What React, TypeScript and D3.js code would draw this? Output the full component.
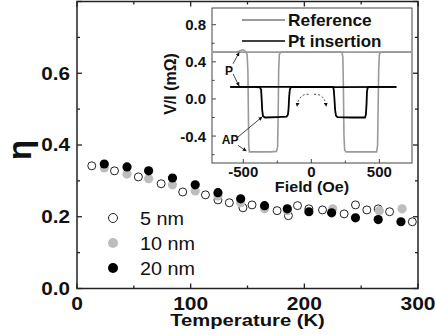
import * as d3 from "d3";

// main panel data: temperature (K) vs eta
const temps5 = [13, 33, 54, 74, 93, 113, 124, 134, 146, 154, 176, 186, 194, 204, 216, 235, 245, 255, 265, 275, 295];
const eta5 = [0.342, 0.328, 0.311, 0.292, 0.269, 0.261, 0.247, 0.239, 0.225, 0.233, 0.217, 0.203, 0.231, 0.222, 0.219, 0.208, 0.233, 0.219, 0.222, 0.214, 0.186];
const temps10 = [24, 44, 63, 84, 104, 124, 144, 165, 185, 225, 266, 286];
const eta10 = [0.336, 0.319, 0.306, 0.289, 0.272, 0.258, 0.239, 0.222, 0.217, 0.222, 0.217, 0.222];
const temps20 = [24, 44, 63, 84, 104, 124, 144, 165, 185, 204, 224, 245, 265, 285];
const eta20 = [0.347, 0.339, 0.328, 0.308, 0.289, 0.267, 0.25, 0.231, 0.222, 0.214, 0.211, 0.197, 0.192, 0.186];

const xTicks = [0, 100, 200, 300];
const yTicks = [0.0, 0.2, 0.4, 0.6];
const legendLabels = ["5 nm", "10 nm", "20 nm"];

// inset data: field (Oe) vs V/I (mOhm), each sweep branch
const refDown: [number, number][] = [
  [740, 0.505], [-225, 0.505], [-235, 0.48], [-240, 0.3], [-244, -0.2], [-248, -0.52], [-256, -0.565],
  [-300, -0.57], [-455, -0.57], [-460, -0.5], [-463, -0.1], [-466, 0.3], [-472, 0.48], [-485, 0.515],
  [-505, 0.53], [-525, 0.52], [-545, 0.505], [-730, 0.505],
];
const refUp: [number, number][] = [
  [-730, 0.505], [225, 0.505], [232, 0.45], [236, 0.1], [240, -0.4], [245, -0.55], [255, -0.57],
  [480, -0.57], [487, -0.5], [491, -0.1], [495, 0.3], [500, 0.48], [510, 0.505], [740, 0.505],
];
const ptDown: [number, number][] = [
  [625, 0.13], [200, 0.128], [-150, 0.13], [-158, 0.1], [-163, 0.02], [-167, -0.1], [-172, -0.17],
  [-182, -0.19], [-250, -0.195], [-340, -0.2], [-355, -0.185], [-361, -0.12], [-365, 0], [-369, 0.1],
  [-378, 0.125], [-420, 0.13], [-596, 0.13],
];
const ptUp: [number, number][] = [
  [-596, 0.13], [160, 0.13], [165, 0.1], [170, 0.0], [175, -0.12], [181, -0.18], [192, -0.195],
  [300, -0.2], [394, -0.2], [401, -0.17], [406, -0.05], [409, 0.08], [414, 0.12], [425, 0.13], [625, 0.13],
];
const insetXTicks = [-500, 0, 500];
const insetYTicks = [-0.4, 0.0, 0.4, 0.8];

const font = "'Liberation Sans', Arial, sans-serif";

function SText({ x, y, scaleX = 1, anchor = "start", size, bold = true, rotate = 0, children }: any) {
  return (
    <text
      transform={`translate(${x},${y}) rotate(${rotate}) scale(${scaleX},1)`}
      textAnchor={anchor}
      fontSize={size}
      fontWeight={bold ? "bold" : "normal"}
      fontFamily={font}
      fill="#111"
    >
      {children}
    </text>
  );
}

export default function App() {
  const x = d3.scaleLinear().domain([0, 300]).range([77, 418]);
  const y = d3.scaleLinear().domain([0, 0.8]).range([288.5, 1.5]);
  const xi = d3.scaleLinear().domain([-730, 740]).range([212, 412]);
  const yi = d3.scaleLinear().domain([-0.69, 0.98]).range([163, 8]);
  const line = d3.line<[number, number]>().x((d) => xi(d[0])).y((d) => yi(d[1]));

  const [x0, x1] = x.range();
  const [y0, y1] = y.range();
  const [ix0, ix1] = xi.range();
  const [iy0, iy1] = yi.range();

  const arrow = (a: [number, number], b: [number, number]) =>
    `M${xi(a[0])},${yi(a[1])}L${xi(b[0])},${yi(b[1])}`;
  const arc = (a: [number, number], c: [number, number], b: [number, number]) =>
    `M${xi(a[0])},${yi(a[1])}Q${xi(c[0])},${yi(c[1])} ${xi(b[0])},${yi(b[1])}`;

  return (
    <svg width={436} height={335} style={{ position: "absolute", left: 0, top: 0, background: "#fff" }}>
      <defs>
        <marker id="ah" viewBox="0 0 10 10" refX="9" refY="5" markerWidth="5" markerHeight="5" orient="auto">
          <path d="M0,0L10,5L0,10z" fill="#111" />
        </marker>
      </defs>

      {/* main frame */}
      <rect x={x0} y={y1} width={x1 - x0} height={y0 - y1} fill="none" stroke="#222" strokeWidth={1.5} />
      {d3.range(0, 301, 50).map((t) => {
        const len = t % 100 === 0 ? 5 : 3;
        return (
          <g key={"xt" + t}>
            <line x1={x(t)} x2={x(t)} y1={y0} y2={y0 - len} stroke="#222" strokeWidth={1.3} />
            <line x1={x(t)} x2={x(t)} y1={y1} y2={y1 + len} stroke="#222" strokeWidth={1.3} />
          </g>
        );
      })}
      {d3.range(0, 9).map((i) => {
        const v = i / 10;
        const len = i % 2 === 0 ? 5 : 3;
        return (
          <g key={"yt" + i}>
            <line x1={x0} x2={x0 + len} y1={y(v)} y2={y(v)} stroke="#222" strokeWidth={1.3} />
            <line x1={x1} x2={x1 - len} y1={y(v)} y2={y(v)} stroke="#222" strokeWidth={1.3} />
          </g>
        );
      })}
      {xTicks.map((t) => (
        <SText key={"xl" + t} x={x(t)} y={310} anchor="middle" size={17.5} scaleX={1.2}>
          {t}
        </SText>
      ))}
      {yTicks.map((t) => (
        <SText key={"yl" + t} x={70} y={y(t) + 6.3} anchor="end" size={17.5} scaleX={1.18}>
          {t.toFixed(1)}
        </SText>
      ))}
      <SText x={(x0 + x1) / 2} y={326} anchor="middle" size={17} scaleX={1.19}>
        Temperature (K)
      </SText>
      <SText x={31} y={150} anchor="middle" size={33} rotate={-90}>
        η
      </SText>

      {/* data */}
      {temps5.map((t, i) => (
        <circle key={"a" + i} cx={x(t)} cy={y(eta5[i])} r={4} fill="#fff" stroke="#222" strokeWidth={1} />
      ))}
      {temps10.map((t, i) => (
        <circle key={"b" + i} cx={x(t)} cy={y(eta10[i])} r={4.6} fill="#bdbdbd" />
      ))}
      {temps20.map((t, i) => (
        <circle key={"c" + i} cx={x(t)} cy={y(eta20[i])} r={4.6} fill="#000" />
      ))}

      {/* legend */}
      {legendLabels.map((lab, i) => {
        const cy = 218 + i * 25;
        return (
          <g key={lab}>
            {i === 0 && <circle cx={113} cy={cy} r={4.5} fill="#fff" stroke="#222" />}
            {i === 1 && <circle cx={113} cy={cy} r={5} fill="#bdbdbd" />}
            {i === 2 && <circle cx={113} cy={cy} r={5} fill="#000" />}
            <SText x={140} y={cy + 6.5} size={18} bold={false} scaleX={1.1}>
              {lab}
            </SText>
          </g>
        );
      })}

      {/* inset */}
      <rect x={ix0} y={iy1} width={ix1 - ix0} height={iy0 - iy1} fill="#fff" stroke="#444" strokeWidth={1} />
      {d3.range(-500, 501, 250).map((f) => (
        <line key={"ixt" + f} x1={xi(f)} x2={xi(f)} y1={iy0} y2={iy0 - (f % 500 === 0 ? 4 : 2.5)} stroke="#444" />
      ))}
      {d3.range(-6, 9, 2).map((k) => (
        <line key={"iyt" + k} x1={ix0} x2={ix0 + (k % 4 === 0 ? 4 : 2.5)} y1={yi(k / 10)} y2={yi(k / 10)} stroke="#444" />
      ))}
      {insetXTicks.map((t) => (
        <SText key={"ixl" + t} x={xi(t)} y={177} anchor="middle" size={15}>
          {t}
        </SText>
      ))}
      {insetYTicks.map((t) => (
        <SText key={"iyl" + t} x={206} y={yi(t) + 5.5} anchor="end" size={15}>
          {t.toFixed(1)}
        </SText>
      ))}
      <SText x={(ix0 + ix1) / 2} y={192} anchor="middle" size={15.5} scaleX={1.04}>
        Field (Oe)
      </SText>
      <SText x={176} y={84} anchor="middle" size={16} rotate={-90}>
        V/I (mΩ)
      </SText>

      <path d={line(refDown) ?? ""} fill="none" stroke="#9a9a9a" strokeWidth={1.6} />
      <path d={line(refUp) ?? ""} fill="none" stroke="#9a9a9a" strokeWidth={1.6} />
      <path d={line(ptDown) ?? ""} fill="none" stroke="#000" strokeWidth={1.8} />
      <path d={line(ptUp) ?? ""} fill="none" stroke="#000" strokeWidth={1.8} />

      {/* inset legend */}
      <line x1={242} x2={285} y1={20} y2={20} stroke="#9a9a9a" strokeWidth={1.8} />
      <SText x={288} y={26} size={16.5} scaleX={1.05}>Reference</SText>
      <line x1={242} x2={285} y1={41} y2={41} stroke="#000" strokeWidth={1.5} />
      <SText x={288} y={47} size={16.5} scaleX={1.03}>Pt insertion</SText>

      {/* annotations */}
      <SText x={xi(-605)} y={yi(0.259)} anchor="middle" size={12}>P</SText>
      <path d={arrow([-575, 0.38], [-531, 0.5])} stroke="#111" strokeWidth={0.8} markerEnd="url(#ah)" />
      <path d={arrow([-575, 0.27], [-531, 0.14])} stroke="#111" strokeWidth={0.8} markerEnd="url(#ah)" />
      <SText x={xi(-597)} y={yi(-0.485)} anchor="middle" size={12}>AP</SText>
      <path d={arrow([-539, -0.41], [-362, -0.194])} stroke="#111" strokeWidth={0.8} markerEnd="url(#ah)" />
      <path d={arrow([-539, -0.5], [-478, -0.56])} stroke="#111" strokeWidth={0.8} markerEnd="url(#ah)" />
      <path d={arc([-20, 0.05], [-90, 0.06], [-105, -0.08])} fill="none" stroke="#111" strokeWidth={0.8} strokeDasharray="2,2" markerEnd="url(#ah)" />
      <path d={arc([20, 0.05], [95, 0.06], [110, -0.08])} fill="none" stroke="#111" strokeWidth={0.8} strokeDasharray="2,2" markerEnd="url(#ah)" />
    </svg>
  );
}
